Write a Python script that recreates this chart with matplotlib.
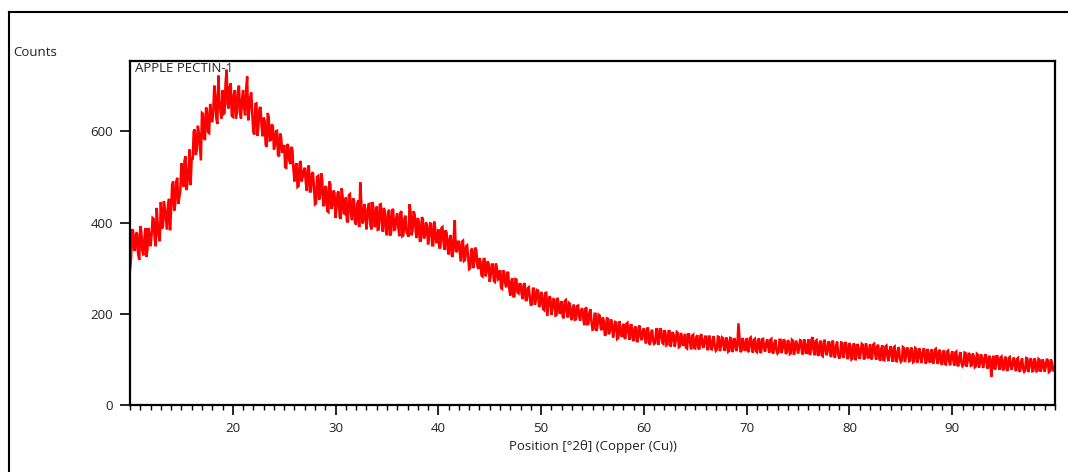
import numpy as np
import matplotlib
matplotlib.use("Agg")
import matplotlib.pyplot as plt
from matplotlib.lines import Line2D
from matplotlib.ticker import MultipleLocator

plt.rcParams['font.family'] = ['Open Sans', 'DejaVu Sans']

# 2theta grid: readings every 0.1 deg from 10.0 to 100.0
two_theta_start = 10.0
two_theta_step = 0.1

# counts read at x.0, x.2, x.4, x.6, x.8 (one row per degree)
counts_even = [
    295, 385, 340, 378, 330,   # 10
    392, 338, 365, 325, 388,   # 11
    348, 410, 365, 432, 370,   # 12
    445, 390, 430, 385, 452,   # 13
    428, 490, 440, 498, 455,   # 14
    530, 478, 545, 490, 560,   # 15
    540, 600, 548, 612, 565,   # 16
    640, 585, 652, 598, 660,   # 17
    620, 700, 628, 722, 645,   # 18
    690, 640, 735, 650, 705,   # 19
    632, 690, 640, 700, 628,   # 20
    690, 635, 720, 645, 685,   # 21
    598, 660, 590, 650, 612,   # 22
    630, 570, 640, 580, 615,   # 23
    560, 600, 548, 595, 555,   # 24
    570, 520, 568, 528, 560,   # 25
    490, 530, 480, 535, 500,   # 26
    520, 470, 525, 468, 510,   # 27
    440, 500, 450, 508, 438,   # 28
    480, 425, 490, 430, 470,   # 29
    410, 465, 412, 475, 420,   # 30
    455, 400, 462, 405, 448,   # 31
    395, 448, 488, 398, 440,   # 32
    385, 440, 392, 445, 390,   # 33
    435, 385, 440, 380, 425,   # 34
    372, 428, 378, 430, 385,   # 35
    420, 370, 425, 372, 415,   # 36
    375, 440, 372, 425, 380,   # 37
    410, 360, 412, 365, 400,   # 38
    352, 398, 350, 402, 355,   # 39
    385, 345, 390, 340, 378,   # 40
    330, 372, 325, 405, 335,   # 41
    358, 315, 360, 318, 350,   # 42
    298, 340, 300, 345, 305,   # 43
    322, 284, 320, 282, 315,   # 44
    270, 308, 272, 310, 275,   # 45
    295, 255, 292, 258, 290,   # 46
    240, 278, 238, 275, 245,   # 47
    265, 232, 267, 230, 258,   # 48
    218, 255, 220, 252, 215,   # 49
    248, 210, 245, 195, 238,   # 50
    198, 232, 196, 235, 200,   # 51
    228, 190, 230, 192, 222,   # 52
    186, 220, 188, 218, 185,   # 53
    212, 175, 214, 178, 210,   # 54
    165, 200, 162, 198, 168,   # 55
    192, 152, 190, 155, 188,   # 56
    148, 182, 145, 184, 150,   # 57
    178, 145, 180, 143, 175,   # 58
    140, 172, 138, 174, 142,   # 59
    168, 135, 170, 132, 165,   # 60
    134, 166, 132, 168, 136,   # 61
    164, 131, 162, 128, 160,   # 62
    128, 160, 127, 158, 130,   # 63
    156, 124, 155, 122, 154,   # 64
    124, 153, 122, 155, 125,   # 65
    152, 120, 150, 122, 151,   # 66
    119, 150, 118, 148, 121,   # 67
    148, 117, 147, 116, 146,   # 68
    118, 179, 116, 147, 119,   # 69
    146, 116, 148, 115, 145,   # 70
    116, 146, 114, 145, 117,   # 71
    144, 115, 145, 113, 143,   # 72
    113, 143, 114, 144, 112,   # 73
    142, 112, 143, 110, 141,   # 74
    113, 142, 111, 144, 112,   # 75
    144, 110, 149, 109, 142,   # 76
    108, 141, 107, 143, 109,   # 77
    140, 105, 141, 104, 139,   # 78
    102, 137, 103, 138, 101,   # 79
    136, 100, 135, 98, 134,    # 80
    101, 134, 100, 135, 102,   # 81
    133, 100, 134, 99, 132,    # 82
    97, 131, 98, 130, 96,      # 83
    129, 95, 128, 96, 127,     # 84
    95, 127, 94, 126, 96,      # 85
    126, 94, 125, 93, 124,     # 86
    92, 124, 91, 123, 93,      # 87
    122, 91, 123, 90, 121,     # 88
    88, 120, 89, 119, 87,      # 89
    118, 86, 117, 85, 116,     # 90
    85, 115, 84, 114, 86,      # 91
    113, 83, 112, 82, 111,     # 92
    81, 111, 80, 108, 62,      # 93
    108, 78, 107, 77, 106,     # 94
    76, 106, 75, 105, 77,      # 95
    104, 74, 103, 73, 102,     # 96
    73, 103, 72, 102, 74,      # 97
    102, 74, 101, 73, 100,     # 98
    73, 101, 72, 100, 74,      # 99
    86,                        # 100
]

# counts read at x.1, x.3, x.5, x.7, x.9 (one row per degree)
counts_odd = [
    322, 382, 340, 375, 318,   # 10
    381, 328, 388, 342, 370,   # 11
    373, 408, 348, 394, 359,   # 12
    387, 447, 405, 440, 383,   # 13
    483, 426, 490, 441, 471,   # 14
    497, 535, 471, 520, 482,   # 15
    540, 604, 559, 597, 536,   # 16
    638, 581, 645, 596, 626,   # 17
    642, 680, 616, 665, 627,   # 18
    638, 706, 658, 698, 634,   # 19
    681, 628, 688, 642, 670,   # 20
    652, 692, 624, 676, 636,   # 21
    593, 661, 613, 653, 589,   # 22
    623, 566, 630, 581, 611,   # 23
    568, 601, 545, 588, 555,   # 24
    521, 572, 536, 566, 518,   # 25
    523, 478, 529, 490, 514,   # 26
    489, 519, 468, 507, 477,   # 27
    442, 502, 460, 495, 438,   # 28
    476, 423, 483, 437, 465,   # 29
    433, 468, 408, 454, 419,   # 30
    404, 460, 420, 453, 400,   # 31
    440, 390, 446, 403, 430,   # 32
    408, 441, 385, 428, 395,   # 33
    384, 439, 400, 432, 381,   # 34
    419, 371, 426, 384, 410,   # 35
    391, 421, 370, 409, 379,   # 36
    369, 424, 385, 417, 366,   # 37
    402, 360, 407, 371, 393,   # 38
    369, 397, 350, 386, 358,   # 39
    345, 388, 358, 383, 343,   # 40
    365, 328, 370, 338, 358,   # 41
    333, 358, 316, 348, 323,   # 42
    300, 343, 313, 338, 298,   # 43
    315, 282, 320, 291, 309,   # 44
    286, 308, 270, 299, 277,   # 45
    257, 295, 268, 290, 255,   # 46
    271, 238, 276, 247, 265,   # 47
    244, 264, 230, 256, 236,   # 48
    221, 255, 231, 251, 219,   # 49
    241, 208, 246, 217, 235,   # 50
    211, 231, 197, 223, 203,   # 51
    194, 228, 204, 224, 192,   # 52
    214, 187, 217, 194, 208,   # 53
    191, 211, 177, 203, 183,   # 54
    166, 200, 176, 196, 164,   # 55
    185, 155, 189, 163, 179,   # 56
    161, 181, 147, 173, 153,   # 57
    148, 178, 157, 175, 146,   # 58
    168, 141, 171, 148, 162,   # 59
    148, 166, 136, 159, 141,   # 60
    136, 166, 145, 163, 134,   # 61
    158, 133, 162, 140, 153,   # 62
    141, 158, 129, 151, 134,   # 63
    126, 155, 135, 152, 125,   # 64
    149, 125, 152, 131, 144,   # 65
    134, 150, 123, 143, 127,   # 66
    122, 149, 130, 146, 121,   # 67
    143, 119, 146, 125, 138,   # 68
    130, 146, 119, 139, 123,   # 69
    119, 146, 127, 143, 118,   # 70
    141, 117, 144, 123, 136,   # 71
    127, 143, 116, 136, 120,   # 72
    116, 143, 124, 140, 115,   # 73
    138, 114, 141, 120, 133,   # 74
    125, 141, 114, 134, 118,   # 75
    113, 143, 122, 140, 111,   # 76
    136, 109, 139, 116, 130,   # 77
    119, 137, 107, 130, 112,   # 78
    106, 136, 115, 133, 104,   # 79
    129, 102, 132, 109, 123,   # 80
    115, 132, 103, 125, 108,   # 81
    103, 132, 112, 129, 102,   # 82
    124, 99, 128, 106, 119,    # 83
    109, 126, 97, 119, 102,    # 84
    98, 125, 106, 122, 97,     # 85
    120, 96, 123, 102, 115,    # 86
    105, 121, 94, 114, 98,     # 87
    94, 121, 102, 118, 93,     # 88
    114, 90, 117, 96, 109,     # 89
    99, 115, 88, 108, 92,      # 90
    88, 114, 96, 111, 87,      # 91
    107, 85, 110, 91, 103,     # 92
    93, 108, 83, 102, 87,      # 93
    81, 107, 89, 104, 80,      # 94
    100, 78, 103, 84, 96,      # 95
    86, 101, 76, 95, 80,       # 96
    76, 102, 84, 99, 75,       # 97
    96, 75, 99, 81, 92,        # 98
    84, 98, 74, 93, 79,        # 99
]

counts = np.empty(len(counts_even) + len(counts_odd))
counts[0::2] = counts_even
counts[1::2] = counts_odd
two_theta = two_theta_start + two_theta_step * np.arange(len(counts))

sample_label = "APPLE PECTIN-1"
x_label = "Position [°2θ] (Copper (Cu))"
y_label = "Counts"
x_major_ticks = [20, 30, 40, 50, 60, 70, 80, 90]
y_major_ticks = [0, 200, 400, 600]

W, H = 1068, 472
FS = 9.5
TXT = '#222222'
fig = plt.figure(figsize=(W / 100, H / 100), dpi=100)
ax = fig.add_axes([130 / W, 1 - 405 / H, (1055 - 130) / W, (405 - 61) / H])

ax.plot(two_theta, counts, color='#ff0000', lw=1.8, solid_joinstyle='miter')

ax.set_xlim(10, 100)
ax.set_ylim(0, 754)
ax.set_xticks(x_major_ticks)
ax.set_yticks(y_major_ticks)
ax.xaxis.set_minor_locator(MultipleLocator(1))
ax.tick_params(axis='both', which='major', direction='out', length=7.5, width=1.2,
               labelsize=FS, colors='black', labelcolor=TXT, pad=4.5)
ax.tick_params(axis='x', which='minor', direction='out', length=3.5, width=1.0)
ax.tick_params(axis='y', which='minor', left=False)
for s in ax.spines.values():
    s.set_linewidth(1.6)
    s.set_color('black')

ax.set_xlabel(x_label, fontsize=FS, color=TXT, labelpad=4)
ax.text(0.005, 0.997, sample_label, transform=ax.transAxes, ha='left', va='top',
        fontsize=FS, color=TXT)
fig.text(13 / W, 1 - 52 / H, y_label, ha='left', va='center', fontsize=FS, color=TXT)

# outer frame (top and left edges visible)
fig.add_artist(Line2D([9 / W, 1.0], [1 - 12 / H, 1 - 12 / H], color='black', lw=1.5,
                      transform=fig.transFigure))
fig.add_artist(Line2D([9 / W, 9 / W], [0.0, 1 - 12 / H], color='black', lw=1.5,
                      transform=fig.transFigure))

fig.savefig('out.png', dpi=100)
